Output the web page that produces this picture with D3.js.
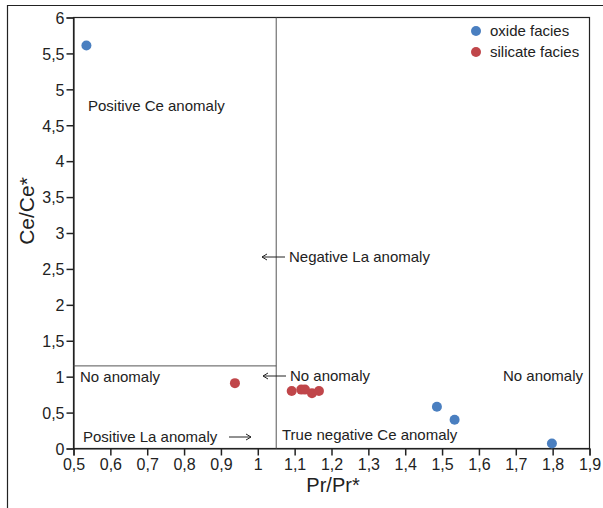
<!DOCTYPE html>
<html>
<head>
<meta charset="utf-8">
<script src="https://cdn.jsdelivr.net/npm/d3@7"></script>
<style>
  body { margin: 0; background: #fff; }
  svg { font-family: "Liberation Sans", Arial, sans-serif; }
</style>
</head>
<body>
<svg id="chart" width="603" height="508"></svg>
<script>
// data
var oxideX = [0.535, 1.486, 1.534, 1.798];
var oxideY = [5.61, 0.58, 0.40, 0.07];
var silicateX = [0.938, 1.092, 1.118, 1.128, 1.147, 1.166];
var silicateY = [0.91, 0.80, 0.82, 0.82, 0.77, 0.80];
var xTicks = [0.5, 0.6, 0.7, 0.8, 0.9, 1, 1.1, 1.2, 1.3, 1.4, 1.5, 1.6, 1.7, 1.8, 1.9];
var yTicks = [0, 0.5, 1, 1.5, 2, 2.5, 3, 3.5, 4, 4.5, 5, 5.5, 6];
var splitX = 1.05;   // vertical divider
var splitY = 1.15;   // horizontal divider (left part)

var svg = d3.select("#chart");

// outer frame, only top and left edge visible
svg.append("path")
    .attr("d", "M7.5,508V5.5H603")
    .attr("fill", "none")
    .attr("stroke", "#222")
    .attr("stroke-width", 1.2);

var x = d3.scaleLinear().domain([0.5, 1.9]).range([73.5, 589.5]);
var y = d3.scaleLinear().domain([0, 6]).range([448.5, 17.5]);

var comma = function (d) { return String(d).replace(".", ","); };

// plot box
svg.append("rect")
    .attr("x", x(0.5)).attr("y", y(6))
    .attr("width", x(1.9) - x(0.5)).attr("height", y(0) - y(6))
    .attr("fill", "none").attr("stroke", "#222").attr("stroke-width", 1.2);

var xAxis = svg.append("g")
    .attr("transform", "translate(0," + y(0) + ")")
    .call(d3.axisBottom(x).tickValues(xTicks).tickFormat(comma).tickSize(7).tickPadding(3));
var yAxis = svg.append("g")
    .attr("transform", "translate(" + x(0.5) + ",0)")
    .call(d3.axisLeft(y).tickValues(yTicks).tickFormat(comma).tickSize(7).tickPadding(2));

[xAxis, yAxis].forEach(function (a) {
    a.select(".domain").attr("stroke", "#222").attr("stroke-width", 1.2);
    a.selectAll(".tick line").attr("stroke", "#222").attr("stroke-width", 1.5);
    a.selectAll("text").attr("font-size", 16).attr("fill", "#222")
        .attr("font-family", "Liberation Sans, Arial, sans-serif");
});
yAxis.selectAll("text").attr("dy", "0.36em");

// divider lines
svg.append("line")
    .attr("x1", x(splitX)).attr("x2", x(splitX))
    .attr("y1", y(0)).attr("y2", y(6))
    .attr("stroke", "#555").attr("stroke-width", 1);
svg.append("line")
    .attr("x1", x(0.5)).attr("x2", x(splitX))
    .attr("y1", y(splitY)).attr("y2", y(splitY))
    .attr("stroke", "#555").attr("stroke-width", 1);

// annotations
var notes = [
    { t: "Positive Ce anomaly", x: 88, y: 106 },
    { t: "Negative La anomaly", x: 289, y: 257 },
    { t: "No anomaly", x: 80, y: 377 },
    { t: "No anomaly", x: 290, y: 376 },
    { t: "No anomaly", x: 503, y: 376 },
    { t: "Positive La anomaly", x: 83, y: 437 },
    { t: "True negative Ce anomaly", x: 282, y: 435 }
];
svg.selectAll(".note").data(notes).enter().append("text")
    .attr("class", "note")
    .attr("x", function (d) { return d.x; })
    .attr("y", function (d) { return d.y; })
    .attr("dy", "0.35em")
    .attr("font-size", 15)
    .attr("fill", "#222")
    .text(function (d) { return d.t; });

// small arrows: [x tail, x head, y]
var arrows = [[285, 262, 257], [286, 263, 376], [229, 251, 437]];
arrows.forEach(function (a) {
    var dir = a[1] < a[0] ? 1 : -1;
    svg.append("path")
        .attr("d", "M" + a[0] + "," + a[2] + "H" + a[1] +
            "M" + (a[1] + dir * 5) + "," + (a[2] - 3) + "L" + a[1] + "," + a[2] +
            "L" + (a[1] + dir * 5) + "," + (a[2] + 3))
        .attr("fill", "none").attr("stroke", "#222").attr("stroke-width", 1);
});

// points
var blue = "#4a7fc0", red = "#c0464a";
svg.selectAll(".ox").data(d3.zip(oxideX, oxideY)).enter().append("circle")
    .attr("cx", function (d) { return x(d[0]); })
    .attr("cy", function (d) { return y(d[1]); })
    .attr("r", 5).attr("fill", blue);
svg.selectAll(".si").data(d3.zip(silicateX, silicateY)).enter().append("circle")
    .attr("cx", function (d) { return x(d[0]); })
    .attr("cy", function (d) { return y(d[1]); })
    .attr("r", 5).attr("fill", red);

// legend
var legend = [["oxide facies", blue], ["silicate facies", red]];
legend.forEach(function (l, i) {
    svg.append("circle").attr("cx", 476).attr("cy", 31 + i * 21).attr("r", 5).attr("fill", l[1]);
    svg.append("text").attr("x", 490).attr("y", 31 + i * 21).attr("dy", "0.35em")
        .attr("font-size", 15).attr("fill", "#222").text(l[0]);
});

// axis titles
svg.append("text")
    .attr("x", 333).attr("y", 485).attr("dy", "0.35em")
    .attr("text-anchor", "middle").attr("font-size", 20).attr("fill", "#222")
    .text("Pr/Pr*");
svg.append("text")
    .attr("transform", "translate(27,211) rotate(-90)")
    .attr("dy", "0.35em")
    .attr("text-anchor", "middle").attr("font-size", 21).attr("fill", "#222")
    .text("Ce/Ce*");
</script>
</body>
</html>
